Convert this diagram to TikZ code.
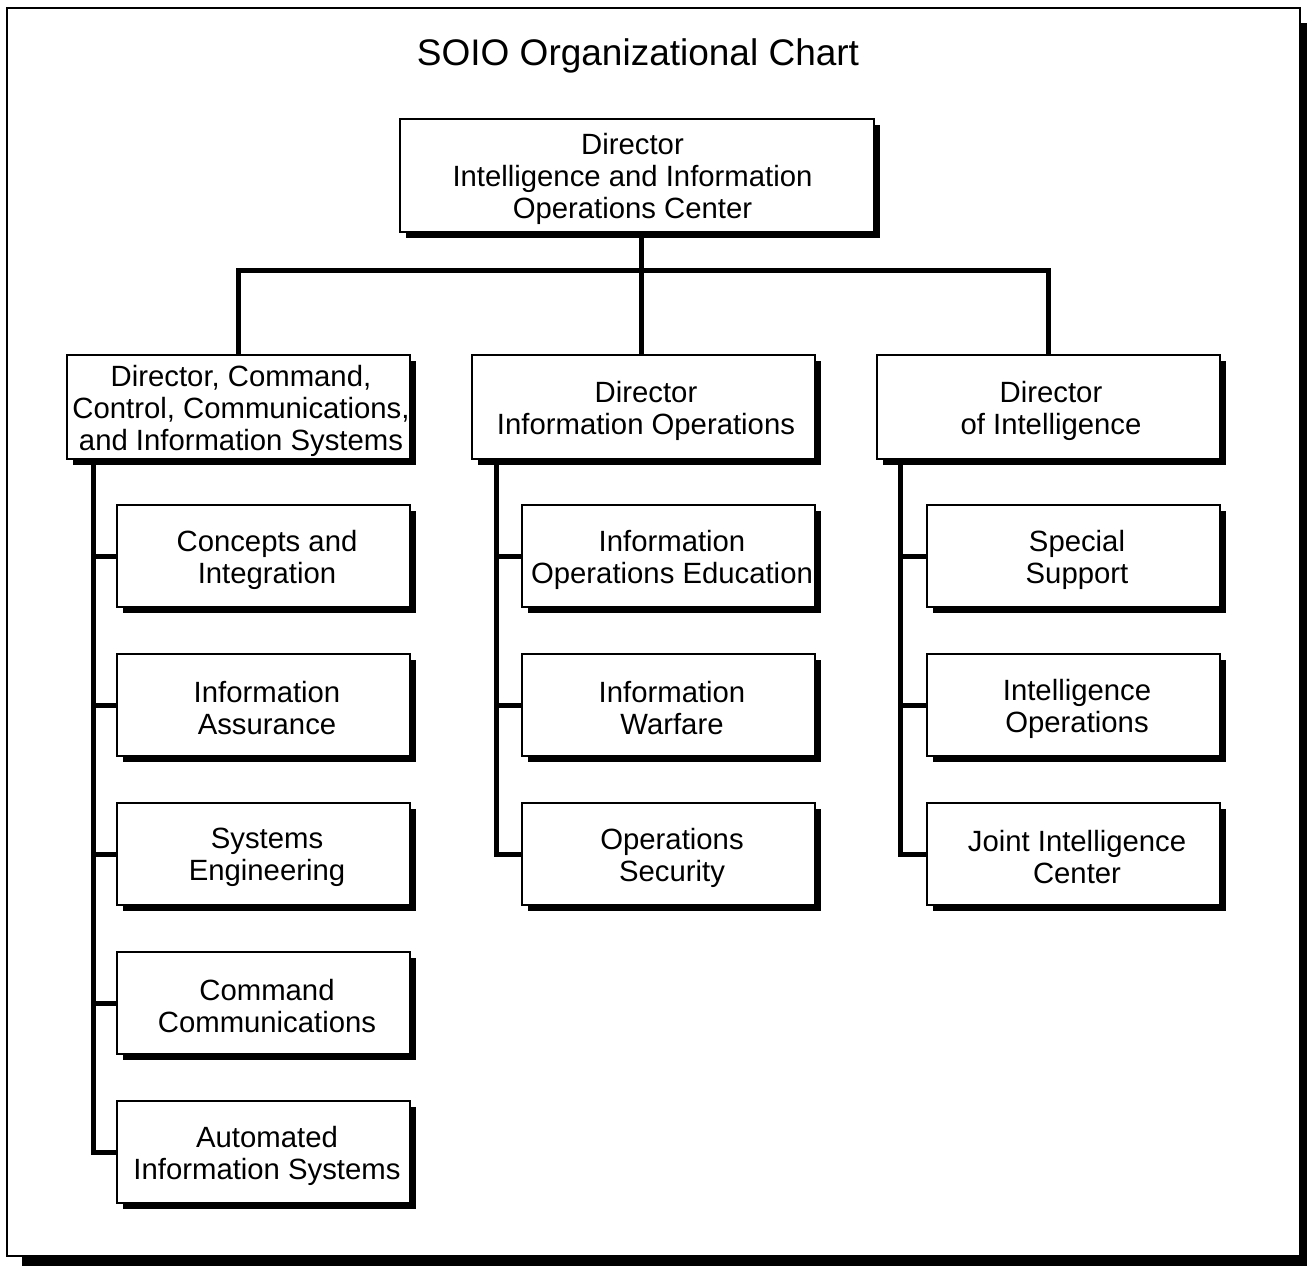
\documentclass[tikz,border=0pt]{standalone}
\usepackage{fontspec}
\setmainfont{Liberation Sans}
\usetikzlibrary{shadows}
\begin{document}
\begin{tikzpicture}[x=1pt,y=-1pt,
  bx/.style={draw, line width=2pt, fill=white, inner sep=0pt,
    general shadow={fill=black, shadow xshift=6pt, shadow yshift=-6pt}},
  txt/.style={align=center, inner sep=0pt, yshift=-3.5pt,
    font=\fontsize{29.3}{32}\selectfont},
  ctxt/.style={txt, xshift=3.5pt},
  ltxt/.style={txt, xshift=2.5pt},
  lvltwo/.style={bx, minimum width=343pt, minimum height=104pt},
  child/.style={bx, minimum width=293pt, minimum height=102pt},
  conn/.style={line width=5pt}]
\useasboundingbox (0,0) rectangle (1307,1266);
% outer frame with shadow
\fill[black] (22,23) rectangle (1320,1280);
\draw[line width=2pt, fill=white] (7,8) rectangle (1300,1256);
\node[font=\fontsize{37}{40}\selectfont] (title) at (638,56) {SOIO Organizational Chart};

\node[bx, minimum width=474pt, minimum height=113pt,
  label={[txt, xshift=-4.5pt]center:{Director\\Intelligence and Information\\Operations Center}}] (top) at (637,175.5) {};

\node[lvltwo, label={[ltxt]center:{Director, Command,\\Control, Communications,\\and Information Systems}}] (l2a) at (238.5,407) {};
\node[lvltwo, label={[ltxt]center:{Director\\Information Operations}}] (l2b) at (643.5,407) {};
\node[lvltwo, label={[ltxt]center:{Director\\of Intelligence}}] (l2c) at (1048.5,407) {};

% left children
\node[child, label={[ctxt]center:{Concepts and\\Integration}}] (a1) at (263.5,556) {};
\node[child, label={[ctxt]center:{Information\\Assurance}}] (a2) at (263.5,705) {};
\node[child, label={[ctxt]center:{Systems\\Engineering}}] (a3) at (263.5,854) {};
\node[child, label={[ctxt]center:{Command\\Communications}}] (a4) at (263.5,1003) {};
\node[child, label={[ctxt]center:{Automated\\Information Systems}}] (a5) at (263.5,1152) {};
% middle children
\node[child, label={[ctxt]center:{Information\\Operations Education}}] (b1) at (668.5,556) {};
\node[child, label={[ctxt]center:{Information\\Warfare}}] (b2) at (668.5,705) {};
\node[child, label={[ctxt]center:{Operations\\Security}}] (b3) at (668.5,854) {};
% right children
\node[child, label={[ctxt]center:{Special\\Support}}] (c1) at (1073.5,556) {};
\node[child, label={[ctxt]center:{Intelligence\\Operations}}] (c2) at (1073.5,705) {};
\node[child, label={[ctxt]center:{Joint Intelligence\\Center}}] (c3) at (1073.5,854) {};

\coordinate (bus) at (641,270);
% top bus
\draw[conn] (top.south -| bus) -- (l2b.north -| bus);
\draw[conn] (l2a.north) |- (bus) -| (l2c.north);
% trunks
\draw[conn] ([xshift=-145.5pt]l2a.south) |- (a5.west);
\draw[conn] ([xshift=-147.5pt]l2b.south) |- (b3.west);
\draw[conn] ([xshift=-148.5pt]l2c.south) |- (c3.west);
\foreach \n in {a1,a2,a3,a4} \draw[conn] (\n.west) -- ++(-25,0);
\foreach \n in {b1,b2} \draw[conn] (\n.west) -- ++(-27,0);
\foreach \n in {c1,c2} \draw[conn] (\n.west) -- ++(-28,0);
\end{tikzpicture}
\end{document}
